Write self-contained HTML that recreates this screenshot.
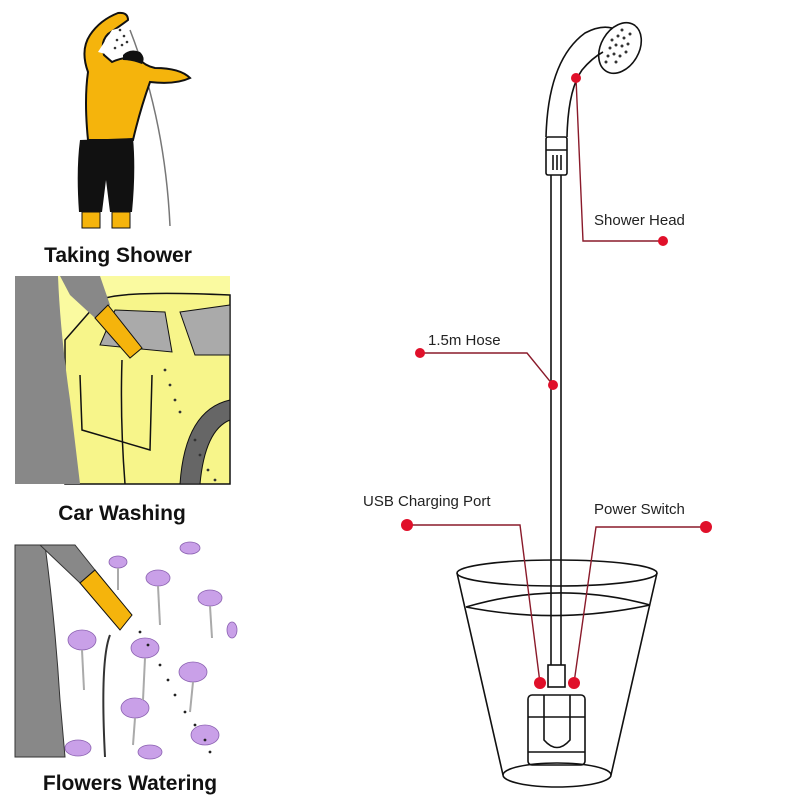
<!DOCTYPE html>
<html><head><meta charset="utf-8"><style>
html,body{margin:0;padding:0;background:#fff;}
svg{display:block}
.lbl{font-family:"Liberation Sans",sans-serif;font-size:15px;fill:#222}
.cap{font-family:"Liberation Sans",sans-serif;font-size:21px;font-weight:bold;fill:#111}
</style></head><body>
<svg width="800" height="800" viewBox="0 0 800 800" xmlns="http://www.w3.org/2000/svg">
<rect width="800" height="800" fill="#fff"/>
<!-- Taking shower -->
<path d="M130 30 Q165 120 170 226" fill="none" stroke="#777" stroke-width="1.5"/>
<path d="M88 140 Q84 100 88 72 Q80 50 90 35 Q100 20 118 13 Q128 12 128 20 Q120 26 108 34 Q100 42 104 55 L112 62 Q125 56 138 58 Q145 66 155 68 Q180 68 190 78 Q175 85 150 82 Q140 110 133 140 Z" fill="#f5b40c" stroke="#111" stroke-width="2"/>
<path d="M123 55 Q130 48 140 52 Q146 58 142 64 Q132 60 123 60 Z" fill="#111"/>
<path d="M98 52 L112 30 L128 26 L120 58 Z" fill="#fff"/>
<path d="M80 140 L133 138 Q136 170 132 212 L110 212 L106 180 L102 212 L79 212 Q76 170 80 140 Z" fill="#111"/>
<rect x="82" y="212" width="18" height="16" fill="#f5b40c" stroke="#111"/>
<rect x="112" y="212" width="18" height="16" fill="#f5b40c" stroke="#111"/>
<g fill="#333"><circle cx="120" cy="30" r="1.3"/><circle cx="124" cy="36" r="1.3"/><circle cx="117" cy="40" r="1.3"/><circle cx="122" cy="45" r="1.3"/><circle cx="127" cy="42" r="1.3"/><circle cx="115" cy="48" r="1.3"/></g>
<text class="cap" x="118" y="262" text-anchor="middle">Taking Shower</text>
<!-- Car washing -->
<rect x="15" y="276" width="215" height="208" fill="#fafaa0"/>
<path d="M65 340 L100 300 Q120 290 230 295 L230 484 L65 484 Z" fill="#f7f58a" stroke="#111" stroke-width="1.5"/>
<path d="M100 345 L115 310 L165 312 L172 352 Z" fill="#aaa" stroke="#111"/>
<path d="M180 312 L230 305 L230 355 L195 355 Z" fill="#aaa" stroke="#111"/>
<path d="M230 400 Q185 410 180 484 L200 484 Q205 430 230 420 Z" fill="#666" stroke="#111"/>
<path d="M80 375 L82 430 L150 450 L152 375" fill="none" stroke="#111" stroke-width="1.5"/>
<path d="M122 360 Q120 420 125 484" fill="none" stroke="#111" stroke-width="1.5"/>
<path d="M15 276 L58 276 Q60 330 70 400 L80 484 L15 484 Z" fill="#888"/>
<path d="M60 276 L100 276 L110 305 L95 318 L70 295 Z" fill="#888"/>
<path d="M95 318 L108 305 L142 348 L130 358 Z" fill="#f5b40c" stroke="#111"/>
<g fill="#333"><circle cx="165" cy="370" r="1.4"/><circle cx="170" cy="385" r="1.4"/><circle cx="175" cy="400" r="1.4"/><circle cx="180" cy="412" r="1.4"/><circle cx="195" cy="440" r="1.4"/><circle cx="200" cy="455" r="1.4"/><circle cx="208" cy="470" r="1.4"/><circle cx="215" cy="480" r="1.4"/></g>
<text class="cap" x="122" y="520" text-anchor="middle">Car Washing</text>
<!-- Flowers -->
<g fill="#c9a0e8" stroke="#8a60b0" stroke-width="0.8">
<ellipse cx="118" cy="562" rx="9" ry="6"/><ellipse cx="158" cy="578" rx="12" ry="8"/><ellipse cx="210" cy="598" rx="12" ry="8"/><ellipse cx="190" cy="548" rx="10" ry="6"/>
<ellipse cx="82" cy="640" rx="14" ry="10"/><ellipse cx="145" cy="648" rx="14" ry="10"/><ellipse cx="193" cy="672" rx="14" ry="10"/><ellipse cx="135" cy="708" rx="14" ry="10"/>
<ellipse cx="78" cy="748" rx="13" ry="8"/><ellipse cx="150" cy="752" rx="12" ry="7"/><ellipse cx="205" cy="735" rx="14" ry="10"/><ellipse cx="232" cy="630" rx="5" ry="8"/>
</g>
<g stroke="#aaa" stroke-width="2"><line x1="118" y1="568" x2="118" y2="590"/><line x1="158" y1="586" x2="160" y2="625"/><line x1="210" y1="606" x2="212" y2="638"/><line x1="82" y1="650" x2="84" y2="690"/><line x1="145" y1="658" x2="143" y2="700"/><line x1="193" y1="682" x2="190" y2="712"/><line x1="135" y1="718" x2="133" y2="745"/></g>
<path d="M15 545 L45 545 Q55 620 60 700 L65 757 L15 757 Z" fill="#888" stroke="#333"/>
<path d="M40 545 L75 545 L95 570 L80 583 Z" fill="#888" stroke="#333"/>
<path d="M80 583 L95 570 L132 615 L120 630 Z" fill="#f5b40c" stroke="#111"/>
<path d="M110 635 Q100 660 105 757" fill="none" stroke="#333" stroke-width="2"/>
<g fill="#222"><circle cx="140" cy="632" r="1.4"/><circle cx="148" cy="645" r="1.4"/><circle cx="160" cy="665" r="1.4"/><circle cx="168" cy="680" r="1.4"/><circle cx="175" cy="695" r="1.4"/><circle cx="185" cy="712" r="1.4"/><circle cx="195" cy="725" r="1.4"/><circle cx="205" cy="740" r="1.4"/><circle cx="210" cy="752" r="1.4"/></g>
<text class="cap" x="130" y="790" text-anchor="middle">Flowers Watering</text>

<!-- Shower product -->
<g fill="none" stroke="#111" stroke-width="1.6">
<path d="M546 137 Q548 60 585 33 Q600 25 612 28"/>
<path d="M567 137 Q568 90 582 70 Q592 58 603 52"/>
<ellipse cx="620" cy="48" rx="19" ry="27" transform="rotate(30 620 48)"/>
<rect x="546" y="137" width="21" height="38" rx="2"/>
<line x1="546" y1="150" x2="567" y2="150"/>
<line x1="553" y1="155" x2="553" y2="170"/><line x1="557" y1="155" x2="557" y2="170"/><line x1="561" y1="155" x2="561" y2="170"/>
<line x1="551" y1="175" x2="551" y2="665"/><line x1="561" y1="175" x2="561" y2="665"/>
<ellipse cx="557" cy="573" rx="100" ry="13"/>
<path d="M457 573 L503 775 M657 573 L611 775"/>
<path d="M466 607 Q557 580 650 605 Q557 625 466 607"/>
<ellipse cx="557" cy="775" rx="54" ry="12"/>
<rect x="548" y="665" width="17" height="22"/>
<rect x="528" y="695" width="57" height="70" rx="4"/>
<line x1="528" y1="717" x2="585" y2="717"/><line x1="528" y1="752" x2="585" y2="752"/>
<path d="M544 695 L544 740 Q557 755 570 740 L570 695"/>
</g>
<g fill="#333">
<circle cx="612" cy="40" r="1.5"/><circle cx="618" cy="36" r="1.5"/><circle cx="624" cy="38" r="1.5"/><circle cx="628" cy="44" r="1.5"/>
<circle cx="610" cy="48" r="1.5"/><circle cx="616" cy="45" r="1.5"/><circle cx="622" cy="46" r="1.5"/><circle cx="626" cy="52" r="1.5"/>
<circle cx="608" cy="56" r="1.5"/><circle cx="614" cy="54" r="1.5"/><circle cx="620" cy="56" r="1.5"/><circle cx="616" cy="62" r="1.5"/>
<circle cx="622" cy="30" r="1.5"/><circle cx="630" cy="34" r="1.5"/><circle cx="606" cy="62" r="1.5"/>
</g>
<!-- callouts -->
<g fill="none" stroke="#8a1a2a" stroke-width="1.4">
<path d="M576 78 L583 241 L663 241"/>
<path d="M420 353 L527 353 L553 385"/>
<path d="M407 525 L520 525 L540 683"/>
<path d="M706 527 L596 527 L574 683"/>
</g>
<g fill="#e0102a">
<circle cx="576" cy="78" r="5"/><circle cx="663" cy="241" r="5"/>
<circle cx="420" cy="353" r="5"/><circle cx="553" cy="385" r="5"/>
<circle cx="407" cy="525" r="6"/><circle cx="706" cy="527" r="6"/>
<circle cx="540" cy="683" r="6"/><circle cx="574" cy="683" r="6"/>
</g>
<text class="lbl" x="594" y="225">Shower Head</text>
<text class="lbl" x="428" y="345">1.5m Hose</text>
<text class="lbl" x="363" y="506">USB Charging Port</text>
<text class="lbl" x="594" y="514">Power Switch</text>
</svg>
</body></html>
